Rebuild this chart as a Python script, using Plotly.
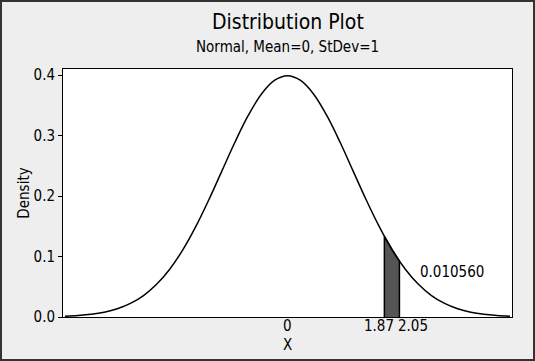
import plotly.graph_objects as go

# Density curve (x position, density)
curve_x = [-3.4, -3.2, -3.0, -2.8, -2.6, -2.4, -2.2, -2.0, -1.8, -1.6, -1.4, -1.2, -1.0, -0.8, -0.6, -0.4, -0.2,
           0.0, 0.2, 0.4, 0.6, 0.8, 1.0, 1.2, 1.4, 1.6, 1.8, 2.0, 2.2, 2.4, 2.6, 2.8, 3.0, 3.2, 3.4]
curve_y = [0.0012, 0.0024, 0.0044, 0.0079, 0.0136, 0.0224, 0.0355, 0.0540, 0.0790, 0.1109, 0.1497, 0.1942,
           0.2420, 0.2897, 0.3332, 0.3683, 0.3910, 0.3989, 0.3910, 0.3683, 0.3332, 0.2897, 0.2420, 0.1942,
           0.1497, 0.1109, 0.0790, 0.0540, 0.0355, 0.0224, 0.0136, 0.0079, 0.0044, 0.0024, 0.0012]

# Shaded region as drawn in the picture
shade_x = [1.48, 1.48, 1.60, 1.71, 1.71]
shade_y = [0.0, 0.1334, 0.1109, 0.0924, 0.0]
shade_label = "0.010560"

x_tick_vals = [0.0, 1.40, 1.92]
x_tick_text = ["0", "1.87", "2.05"]
y_tick_vals = [0.0, 0.1, 0.2, 0.3, 0.4]

title_text = "Distribution Plot"
subtitle_text = "Normal, Mean=0, StDev=1"

FONT = "DejaVu Sans Condensed, sans-serif"
L, R, T, B = 63, 23, 69, 44
PW, PH = 535 - L - R, 361 - T - B

fig = go.Figure()
fig.add_trace(go.Scatter(x=shade_x, y=shade_y, mode="lines", fill="toself",
                         fillcolor="#555555", line=dict(color="black", width=1.5),
                         hoverinfo="skip", showlegend=False))
fig.add_trace(go.Scatter(x=curve_x, y=curve_y, mode="lines", line=dict(color="black", width=1.5, shape="spline"),
                         showlegend=False))

fig.add_annotation(x=2.0, y=0.074, xref="x", yref="y", text=shade_label, showarrow=False,
                   xanchor="left", yanchor="middle", font=dict(size=15, color="black", family=FONT))

# titles
fig.add_annotation(x=0.5, y=1 + (T - 22) / PH, xref="paper", yref="paper", text=title_text, showarrow=False,
                   xanchor="center", yanchor="middle", font=dict(size=21, color="black", family=FONT))
fig.add_annotation(x=0.5, y=1 + (T - 47) / PH, xref="paper", yref="paper", text=subtitle_text, showarrow=False,
                   xanchor="center", yanchor="middle", font=dict(size=15, color="black", family=FONT))

# x tick labels and axis title
for v, t in zip(x_tick_vals, x_tick_text):
    fig.add_annotation(x=v, y=0, xref="x", yref="paper", text=t, showarrow=False, borderpad=0,
                       xanchor="center", yanchor="top", yshift=1, font=dict(size=15, color="black", family=FONT))
fig.add_annotation(x=0.0, y=-(345 - (361 - B)) / PH, xref="x", yref="paper", text="X", showarrow=False,
                   borderpad=0, xanchor="center", yanchor="middle",
                   font=dict(size=15, color="black", family=FONT))

fig.update_layout(
    width=535, height=361,
    margin=dict(l=L, r=R, t=T, b=B),
    paper_bgcolor="#eeeeee", plot_bgcolor="white",
    font=dict(family=FONT, color="black", size=15),
    xaxis=dict(range=[-3.43, 3.43], showticklabels=False, ticks="",
               showgrid=False, zeroline=False, showline=True, mirror=True, linecolor="black", linewidth=1),
    yaxis=dict(range=[0, 0.41], tickvals=y_tick_vals, tickformat=".1f", ticks="outside", ticklen=4,
               tickcolor="black", showgrid=False, zeroline=False, showline=True, mirror=True,
               linecolor="black", linewidth=1, title=dict(text="Density", standoff=0, font=dict(size=15)),
               tickfont=dict(size=15)),
    shapes=[dict(type="rect", xref="paper", yref="paper", x0=-(L - 1) / PW, x1=1 + (R - 1) / PW,
                 y0=-(B - 1) / PH, y1=1 + (T - 1) / PH,
                 line=dict(color="#333333", width=2), layer="below")],
)

fig.write_html("out.html", config={"displayModeBar": False},
               post_script="document.body.style.margin='0px';")
